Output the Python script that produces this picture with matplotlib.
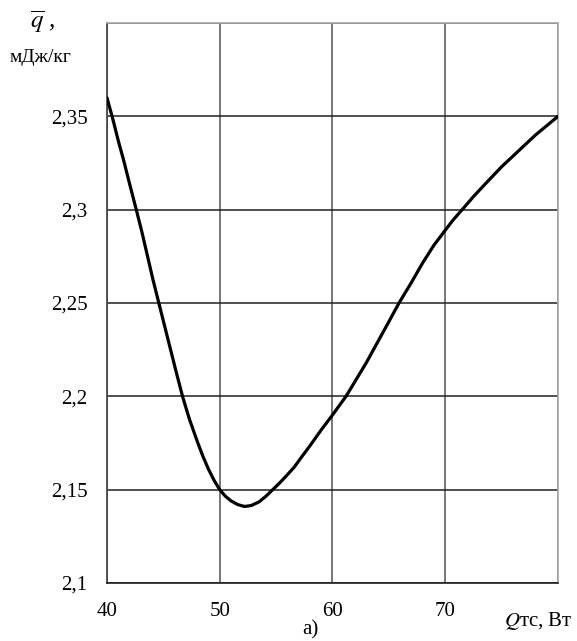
import matplotlib.pyplot as plt

plt.rcParams['font.family'] = ['Liberation Serif', 'DejaVu Serif']
plt.rcParams['mathtext.fontset'] = 'stix'

# values
q_tc = [40, 40.5, 41, 41.5, 42, 42.6, 43.1, 43.6, 44.1, 44.6, 45.1, 45.6,
        46.1, 46.7, 47.3, 48, 48.5, 49, 49.5, 50, 50.5, 51, 51.6, 52.2,
        52.8, 53.5, 54.1, 54.7, 55.3, 56, 56.6, 57.2, 58, 59, 60, 60.6,
        61.2, 62, 63, 64, 65, 65.9, 67, 68, 69, 70, 70.7, 71.5, 72.5, 73.5,
        75, 76.5, 78, 80]
q_avg = [2.360, 2.349, 2.337, 2.326, 2.314, 2.300, 2.288, 2.275, 2.262,
         2.250, 2.238, 2.226, 2.214, 2.200, 2.188, 2.176, 2.168, 2.161,
         2.155, 2.150, 2.1465, 2.144, 2.142, 2.141, 2.1415, 2.1435, 2.1465,
         2.150, 2.1535, 2.158, 2.162, 2.167, 2.1735, 2.182, 2.190, 2.195,
         2.200, 2.208, 2.218, 2.229, 2.240, 2.250, 2.261, 2.2715, 2.281,
         2.289, 2.2945, 2.300, 2.307, 2.3135, 2.323, 2.3315, 2.340, 2.350]

xticks = [40, 50, 60, 70, 80]
xtick_labels = ['40', '50', '60', '70', '']
yticks = [2.1, 2.15, 2.2, 2.25, 2.3, 2.35, 2.4]
ytick_labels = ['2,1', '2,15', '2,2', '2,25', '2,3', '2,35', '']

fig = plt.figure(figsize=(5.77, 6.41), dpi=100)
ax = fig.add_axes([0.1854, 0.0905, 0.7816, 0.8735])

ax.plot(q_tc, q_avg, color='black', lw=2.3, solid_capstyle='round',
        solid_joinstyle='round', zorder=3)

ax.set_xlim(40, 80)
ax.set_ylim(2.1, 2.4)
ax.set_xticks(xticks)
ax.set_xticklabels(xtick_labels)
ax.set_yticks(yticks)
ax.set_yticklabels(ytick_labels)
ax.tick_params(length=0, labelsize=15)
ax.tick_params(axis='x', pad=14)
ax.tick_params(axis='y', pad=14)

ax.xaxis.grid(True, color='#606060', lw=1.2)
ax.yaxis.grid(True, color='#202020', lw=1.1)

ax.spines['left'].set_color('#404040')
ax.spines['bottom'].set_color('#202020')
ax.spines['top'].set_color('#a8a8a8')
ax.spines['right'].set_color('#a8a8a8')
for s in ax.spines.values():
    s.set_linewidth(1.2)

fig.text(43 / 577, 1 - 22 / 641, r'$\overline{q}$ ,', fontsize=18,
         ha='center', va='center')
fig.text(41 / 577, 1 - 57 / 641, 'мДж/кг', fontsize=14,
         ha='center', va='center')
fig.text(538 / 577, 1 - 621 / 641, r'$Q$тс, Вт', fontsize=15,
         ha='center', va='center')
fig.text(310 / 577, 1 - 630 / 641, 'а)', fontsize=15,
         ha='center', va='center')

fig.savefig('out.png', dpi=100)
